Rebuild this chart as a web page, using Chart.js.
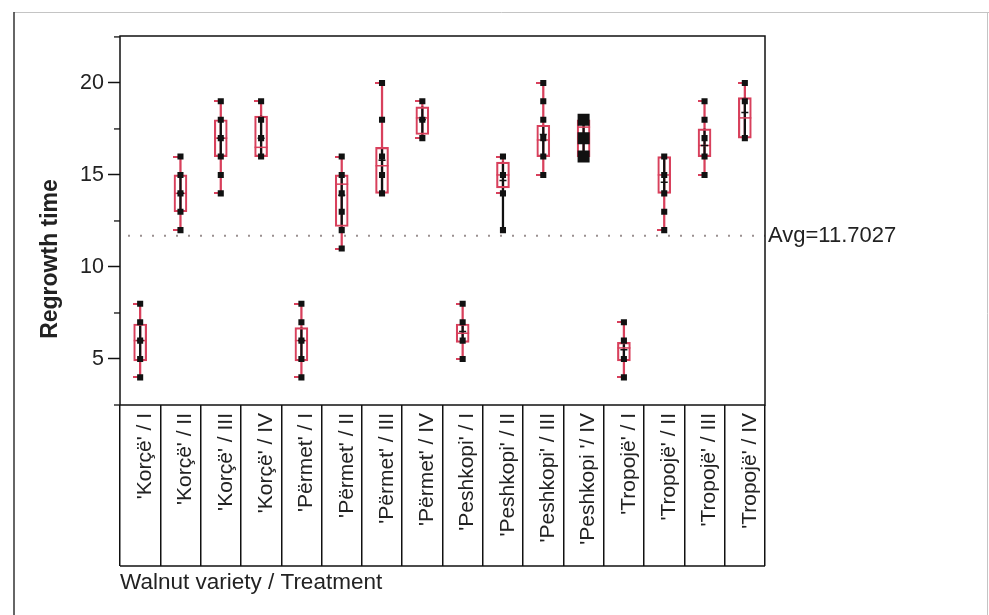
<!DOCTYPE html>
<html>
<head>
<meta charset="utf-8">
<script src="https://cdn.jsdelivr.net/npm/chart.js@4.4.1/dist/chart.umd.min.js"></script>
<style>
html,body{margin:0;padding:0;background:#fff;}
#wrap{width:989px;height:615px;position:relative;}
canvas{display:block;}
</style>
</head>
<body>
<div id="wrap"><canvas id="c" width="989" height="615"></canvas></div>
<script>
// ---------------- data ----------------
const categories = [
  "'Korçë' / I", "'Korçë' / II", "'Korçë' / III", "'Korçë' / IV",
  "'Përmet' / I", "'Përmet' / II", "'Përmet' / III", "'Përmet' / IV",
  "'Peshkopi' / I", "'Peshkopi' / II", "'Peshkopi' / III", "'Peshkopi '/ IV",
  "'Tropojë' / I", "'Tropojë' / II", "'Tropojë' / III", "'Tropojë' / IV"
];
// observed regrowth times per group (duplicates = overlapping points)
const pointValues = [
  [4, 5, 6, 7, 8],
  [12, 13, 14, 15, 16],
  [14, 15, 16, 17, 18, 19],
  [16, 17, 18, 19],
  [4, 5, 6, 7, 8],
  [11, 12, 13, 14, 15, 16],
  [14, 15, 16, 18, 20],
  [17, 18, 19],
  [5, 6, 7, 8],
  [12, 14, 15, 16],
  [15, 16, 17, 18, 19, 20],
  [16, 16, 17, 17, 18, 18],
  [4, 5, 6, 7],
  [12, 13, 14, 15, 16],
  [15, 16, 17, 18, 19],
  [17, 19, 20]
];
const q1          = [4.9, 13.0, 16.0, 16.0, 4.9, 12.2, 14.0, 17.2, 5.9, 14.3, 16.0, 16.0, 4.9, 14.0, 16.0, 17.0];
const median      = [6.0, 14.0, 17.0, 16.5, 6.0, 14.5, 15.5, 18.1, 6.4, 15.0, 16.9, 17.6, 5.6, 15.0, 16.6, 18.1];
const q3          = [6.9, 15.0, 18.0, 18.2, 6.7, 15.0, 16.5, 18.7, 6.9, 15.7, 17.7, 18.0, 5.9, 16.0, 17.5, 19.2];
const whiskerLow  = [4, 12, 14, 16, 4, 11, 14, 17, 5, 14, 15, 16, 4, 12, 15, 17];
const whiskerHigh = [8, 16, 19, 19, 8, 16, 20, 19, 8, 16, 20, 18, 7, 16, 19, 20];
const innerLow    = [4.9, 13.0, 16.0, 16.0, 4.9, 12.2, 14.0, 17.2, 5.9, 12.0, 16.0, 16.0, 4.9, 14.0, 16.0, 17.0];
const innerHigh   = [6.9, 15.0, 18.0, 18.2, 6.7, 15.0, 16.5, 18.7, 6.9, 15.7, 17.7, 18.0, 5.9, 16.0, 17.5, 19.2];
const means       = [6.0, 14.0, 17.0, 17.0, 6.0, 13.9, 15.8, 18.0, 6.5, 14.7, 17.2, 17.0, 5.5, 14.6, 16.6, 18.4];
const avgValue = 11.7027;
const yMin = 2.5, yMax = 22.55, yStep = 2.5;

// ---------------- derived tables ----------------
const RED = '#d8405c';
const boxData = categories.map((c, i) => [q1[i], q3[i]]);
const whiskerData = categories.map((c, i) => [whiskerLow[i], whiskerHigh[i]]);
const innerData = categories.map((c, i) => [innerLow[i], innerHigh[i]]);
const capData = [];
categories.forEach((c, i) => {
  if (whiskerLow[i] < q1[i] - 0.15) capData.push({x: c, y: whiskerLow[i]});
  if (whiskerHigh[i] > q3[i] + 0.15) capData.push({x: c, y: whiskerHigh[i]});
});
const pointData = [];
categories.forEach((c, i) => {
  const counts = {};
  pointValues[i].forEach(v => { counts[v] = (counts[v] || 0) + 1; });
  Object.keys(counts).forEach(k => pointData.push({x: c, y: +k, n: counts[k]}));
});

// cap marker: short line on the left side of the whisker
const capImg = document.createElement('canvas');
capImg.width = 14; capImg.height = 2;
(function(){ const g = capImg.getContext('2d'); g.fillStyle = RED; g.fillRect(0, 0, 8, 2); })();

const FONT = "'Liberation Sans', Arial, sans-serif";
const TEXT = '#222';

const decor = {
  id: 'decor',
  beforeDraw(chart) {
    const ctx = chart.ctx;
    ctx.save();
    ctx.fillStyle = '#fff';
    ctx.fillRect(0, 0, chart.width, chart.height);
    ctx.strokeStyle = '#c4c4c4'; ctx.lineWidth = 1;
    ctx.beginPath(); ctx.moveTo(14, 12.5); ctx.lineTo(989, 12.5); ctx.stroke();
    ctx.beginPath(); ctx.moveTo(987.5, 12); ctx.lineTo(987.5, 615); ctx.stroke();
    ctx.strokeStyle = '#333'; ctx.lineWidth = 1.5;
    ctx.beginPath(); ctx.moveTo(14, 12); ctx.lineTo(14, 615); ctx.stroke();
    ctx.restore();
  },
  beforeDatasetsDraw(chart) {
    const {ctx, chartArea: a, scales: {y}} = chart;
    const ya = y.getPixelForValue(avgValue);
    ctx.save();
    ctx.strokeStyle = '#9a9090'; ctx.lineWidth = 2;
    ctx.setLineDash([2, 10]);
    ctx.beginPath(); ctx.moveTo(a.left + 8, ya); ctx.lineTo(a.right, ya); ctx.stroke();
    ctx.restore();
  },
  afterDraw(chart) {
    const {ctx, chartArea: a, scales: {x, y}} = chart;
    ctx.save();
    // plot frame
    ctx.strokeStyle = '#111'; ctx.lineWidth = 1.5;
    ctx.strokeRect(a.left, a.top, a.right - a.left, a.bottom - a.top);
    // bottom of label boxes
    const lb = a.bottom + x.options.grid.tickLength;
    ctx.beginPath(); ctx.moveTo(a.left, lb); ctx.lineTo(a.right, lb); ctx.stroke();
    // minor y ticks
    ctx.lineWidth = 1.3;
    y.ticks.forEach(t => {
      if (Math.abs(t.value % 5) > 1e-6) {
        const p = y.getPixelForValue(t.value);
        ctx.beginPath(); ctx.moveTo(a.left - 6, p); ctx.lineTo(a.left, p); ctx.stroke();
      }
    });
    // average label
    const ya = y.getPixelForValue(avgValue);
    ctx.fillStyle = TEXT;
    ctx.font = '22px ' + FONT;
    ctx.textAlign = 'left'; ctx.textBaseline = 'middle';
    ctx.fillText('Avg=' + avgValue, a.right + 3, ya);
    // y axis title
    ctx.translate(51, 259);
    ctx.rotate(-Math.PI / 2);
    ctx.font = 'bold 23px ' + FONT;
    ctx.textAlign = 'center'; ctx.textBaseline = 'middle';
    ctx.fillText('Regrowth time', 0, 0);
    ctx.restore();
  }
};

new Chart(document.getElementById('c'), {
  data: {
    labels: categories,
    datasets: [
      { type: 'line', label: 'points', data: pointData, showLine: false, order: 0,
        pointStyle: 'rect', backgroundColor: '#111', borderColor: '#111', borderWidth: 0,
        pointRadius: c => (c.raw && c.raw.n > 1 ? 8.5 : 4.3), pointHoverRadius: 4.3 },
      { type: 'line', label: 'means', data: means, showLine: false, order: 1,
        pointStyle: 'line', pointRadius: 3.5, borderColor: '#111', pointBorderWidth: 1.5 },
      { type: 'line', label: 'median', data: median, showLine: false, order: 2,
        pointStyle: 'line', pointRadius: 6.5, borderColor: RED, pointBorderWidth: 1.5 },
      { type: 'line', label: 'caps', data: capData, showLine: false, order: 3,
        pointStyle: capImg, pointRadius: 5 },
      { type: 'bar', label: 'box', data: boxData, order: 4, grouped: false,
        barThickness: 13, backgroundColor: 'rgba(0,0,0,0)', borderColor: RED,
        borderWidth: 1.5, borderSkipped: false },
      { type: 'bar', label: 'inner', data: innerData, order: 5, grouped: false,
        barThickness: 1.6, backgroundColor: '#111', borderWidth: 0 },
      { type: 'bar', label: 'whisker', data: whiskerData, order: 6, grouped: false,
        barThickness: 1.6, backgroundColor: RED, borderWidth: 0 }
    ]
  },
  options: {
    responsive: false,
    animation: false,
    devicePixelRatio: 1,
    layout: { padding: { left: 0, top: 36, right: 224, bottom: 15 } },
    plugins: { legend: { display: false }, tooltip: { enabled: false } },
    scales: {
      x: {
        type: 'category',
        offset: true,
        border: { display: false },
        grid: { display: true, offset: true, drawOnChartArea: false, drawTicks: true,
                tickLength: 161, color: '#111', tickColor: '#111', tickWidth: 1.5, lineWidth: 1.5 },
        ticks: { autoSkip: false, minRotation: 90, maxRotation: 90, padding: -153, labelOffset: 5,
                 color: TEXT, font: { family: FONT, size: 21 } },
        title: { display: true, text: 'Walnut variety / Treatment', align: 'start',
                 color: TEXT, font: { family: FONT, size: 22.5 }, padding: { top: 0, bottom: 4 } },
        afterFit: s => { s.height = 195; }
      },
      y: {
        type: 'linear',
        min: yMin, max: yMax,
        border: { display: false },
        grid: { display: true, drawOnChartArea: false, drawTicks: true, tickLength: 12,
                tickWidth: 1.5,
                tickColor: c => (Math.abs(c.tick.value % 5) < 1e-6 ? '#111' : 'rgba(0,0,0,0)') },
        ticks: { stepSize: yStep, includeBounds: false, padding: 4, color: TEXT,
                 font: { family: FONT, size: 21.5 },
                 callback: v => (Math.abs(v % 5) < 1e-6 ? v : '') },
        title: { display: false },
        afterFit: s => { s.width = 120; }
      }
    }
  },
  plugins: [decor]
});
</script>
</body>
</html>
